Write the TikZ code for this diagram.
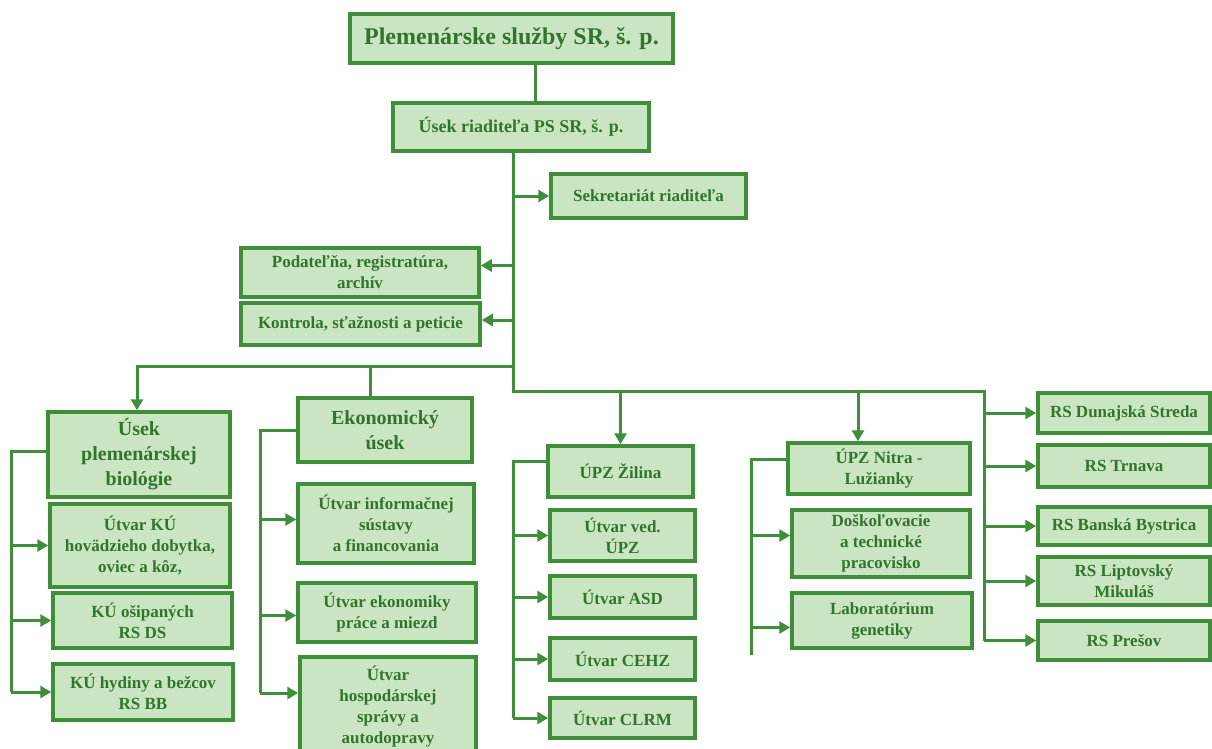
\documentclass[tikz,border=0pt]{standalone}
\usepackage{fontspec}
\setmainfont{Liberation Serif}
\usepackage{tikz}
\usetikzlibrary{arrows.meta, calc, positioning}
\definecolor{orgLine}{RGB}{62,142,58}
\definecolor{orgFill}{RGB}{202,229,194}
\definecolor{orgText}{RGB}{50,116,46}
\newcommand{\unitFont}{\fontsize{17}{21}\selectfont\bfseries}
\newcommand{\headFont}{\fontsize{20}{25}\selectfont\bfseries}
\tikzstyle{unit}=[draw=orgLine, line width=3.5pt, fill=orgFill, text=orgText, align=center, inner sep=2pt, font=\unitFont]
\tikzstyle{head}=[unit, font=\headFont]
\tikzstyle{link}=[draw=orgLine, line width=3pt]
\tikzstyle{arrow}=[link, -{Triangle[length=11pt,width=12pt]}]

\begin{document}
\begin{tikzpicture}[x=1pt, y=-1pt]
  \path[use as bounding box, clip] (0,0) rectangle (1212,749);
  \fill[white] (0,0) rectangle (1212,749);

  % vedenie
  \node[unit, font=\fontsize{24}{28}\selectfont\bfseries, minimum width=323pt, minimum height=49pt] (top) at (511.5,38.5) {Plemenárske služby SR, š. p.};
  \node[unit, font=\fontsize{18}{22}\selectfont\bfseries, minimum width=256pt, minimum height=48pt] (riad) at (521,127) {Úsek riaditeľa PS SR, š. p.};
  \node[unit, minimum width=195pt, minimum height=44pt] (sekr) at (648.5,196) {Sekretariát riaditeľa};
  \node[unit, minimum width=238pt, minimum height=49pt] (podat) at (360,272.5) {Podateľňa, registratúra,\\ archív};
  \node[unit, minimum width=239pt, minimum height=42pt] (kontr) at (360.5,324) {Kontrola, sťažnosti a peticie};

  % usek plemenarskej biologie
  \node[head, minimum width=182pt, minimum height=85pt] (usekpb) at (139,454.5) {Úsek\\ plemenárskej\\ biológie};
  \node[unit, minimum width=180pt, minimum height=83pt] (kuhov) at (140,545.5) {Útvar KÚ\\ hovädzieho dobytka,\\ oviec a kôz,};
  \node[unit, minimum width=179pt, minimum height=55pt] (kuosip) at (142.5,620.5) {KÚ ošipaných\\ RS DS};
  \node[unit, minimum width=180pt, minimum height=56pt] (kuhyd) at (143,692) {KÚ hydiny a bežcov\\ RS BB};

  % ekonomicky usek
  \node[head, minimum width=174pt, minimum height=64pt] (ekon) at (385,430) {Ekonomický\\ úsek};
  \node[unit, minimum width=176pt, minimum height=79pt] (inf) at (386,523.5) {Útvar informačnej\\ sústavy\\ a financovania};
  \node[unit, minimum width=178pt, minimum height=59pt] (ekpr) at (387,612.5) {Útvar ekonomiky\\ práce a miezd};
  \node[unit, minimum width=176pt, minimum height=100pt] (hosp) at (388,707) {Útvar\\ hospodárskej\\ správy a\\ autodopravy};

  % UPZ Zilina
  \node[unit, minimum width=145pt, minimum height=51pt] (upzz) at (620.5,471.5) {ÚPZ Žilina};
  \node[unit, minimum width=145pt, minimum height=51pt] (ved) at (622.5,535.5) {Útvar ved.\\ ÚPZ};
  \node[unit, minimum width=145pt, minimum height=42pt] (asd) at (622.5,597) {Útvar ASD};
  \node[unit, minimum width=145pt, minimum height=42pt] (cehz) at (622.5,659) {Útvar CEHZ};
  \node[unit, minimum width=145pt, minimum height=40pt] (clrm) at (622.5,718) {Útvar CLRM};

  % UPZ Nitra
  \node[unit, minimum width=182pt, minimum height=51pt] (upzn) at (879,468.5) {ÚPZ Nitra -\\ Lužianky};
  \node[unit, minimum width=178pt, minimum height=67pt] (dosk) at (881,543.5) {Doškoľovacie\\ a technické\\ pracovisko};
  \node[unit, minimum width=180pt, minimum height=55pt] (lab) at (882,620.5) {Laboratórium\\ genetiky};

  % regionalne strediska
  \node[unit, minimum width=172pt, minimum height=40pt] (rsds) at (1124,413) {RS Dunajská Streda};
  \node[unit, minimum width=172pt, minimum height=42pt] (rstt) at (1124,466) {RS Trnava};
  \node[unit, minimum width=172pt, minimum height=38pt] (rsbb) at (1124,526) {RS Banská Bystrica};
  \node[unit, minimum width=172pt, minimum height=48pt] (rslm) at (1124,581) {RS Liptovský\\ Mikuláš};
  \node[unit, minimum width=172pt, minimum height=39pt] (rspo) at (1124,640.5) {RS Prešov};

  % spojenia
  \coordinate (busL) at (513,366);
  \coordinate (busR) at (513,391);
  \coordinate (busE) at (984,391);
  \draw[link] ([xshift=23.5pt]top.south) -- ([xshift=14pt]riad.north);
  \draw[link] (riad.south -| busL) -- (busR) -- (busE) -- (rspo.west -| busE);
  \draw[arrow] (sekr.west -| busL) -- (sekr.west);
  \draw[arrow] ([yshift=7pt]podat.east -| busL) -- ([yshift=7pt]podat.east);
  \draw[arrow] ([yshift=4pt]kontr.east -| busL) -- ([yshift=4pt]kontr.east);
  \draw[arrow] (busL) -| ([xshift=-2pt]usekpb.north);
  \draw[link] ([xshift=-15pt]ekon.north |- busL) -- ([xshift=-15pt]ekon.north);
  \draw[arrow] (upzz.north |- busR) -- (upzz.north);
  \draw[arrow] ([xshift=-21pt]upzn.north |- busR) -- ([xshift=-21pt]upzn.north);
  \foreach \n in {rsds,rstt,rsbb,rslm,rspo}
    \draw[arrow] (\n.west -| busE) -- (\n.west);

  \draw[link] ([yshift=3.5pt]usekpb.west) -- ++(-35,0) coordinate (c1) -- (c1 |- kuhyd.west);
  \foreach \n in {kuhov,kuosip,kuhyd}
    \draw[arrow] (c1 |- \n.west) -- (\n.west);

  \draw[link] (ekon.west) -- ++(-36,0) coordinate (c2) -- (c2 |- 0,693);
  \draw[arrow] ([yshift=4pt]inf.west -| c2) -- ([yshift=4pt]inf.west);
  \draw[arrow] ([yshift=-3pt]ekpr.west -| c2) -- ([yshift=-3pt]ekpr.west);
  \draw[arrow] ([yshift=14pt]hosp.west -| c2) -- ([yshift=14pt]hosp.west);

  \draw[link] ([yshift=10pt]upzz.west) -- ++(-33,0) coordinate (c3) -- (c3 |- clrm.west);
  \foreach \n in {ved,asd,cehz,clrm}
    \draw[arrow] (c3 |- \n.west) -- (\n.west);

  \draw[link] ([yshift=9.5pt]upzn.west) -- ++(-35,0) coordinate (c4) -- (c4 |- 0,655);
  \draw[arrow] ([yshift=8pt]dosk.west -| c4) -- ([yshift=8pt]dosk.west);
  \draw[arrow] ([yshift=-7pt]lab.west -| c4) -- ([yshift=-7pt]lab.west);
\end{tikzpicture}
\end{document}
